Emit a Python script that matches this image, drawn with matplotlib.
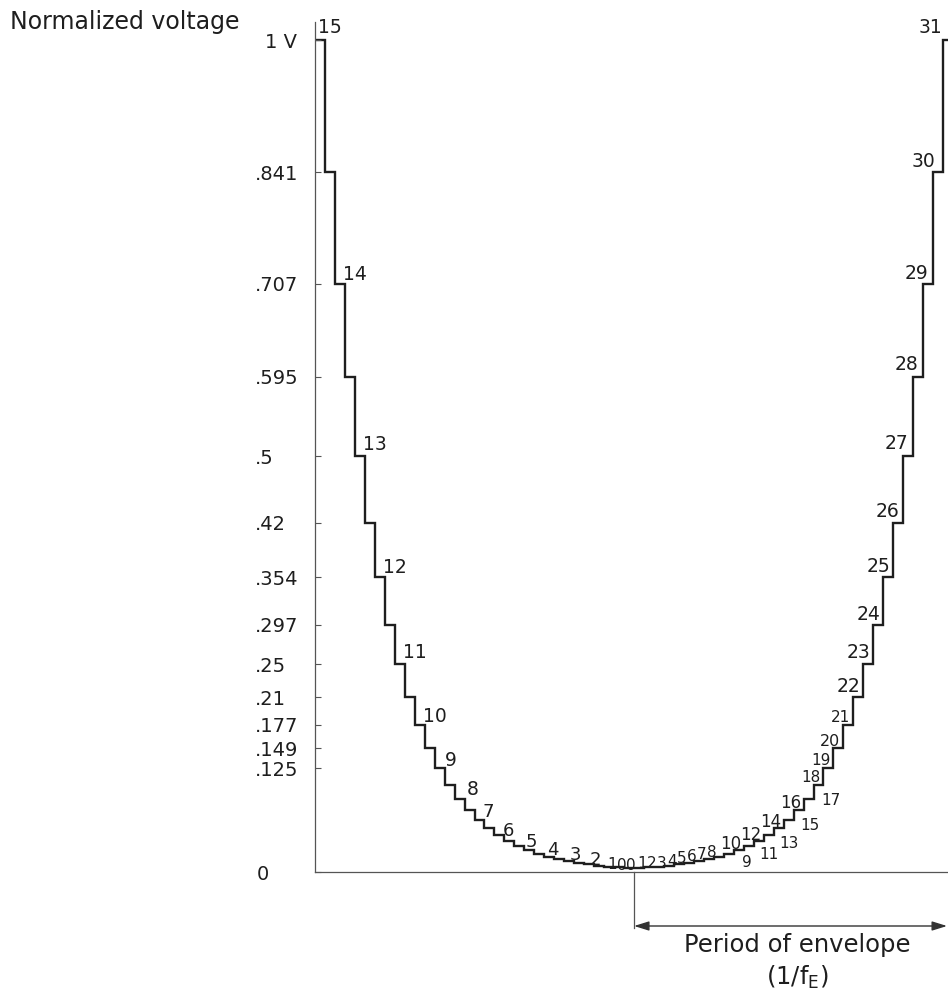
import matplotlib
matplotlib.use("Agg")
import matplotlib.pyplot as plt
import numpy as np

# ---------------- data ----------------
# left half: descending staircase (32 levels), right half: ascending staircase (32 levels)
levels_left = [1.0, .841, .707, .595, .5, .42, .354, .297, .25, .21, .177, .149,
               .125, .105, .088, .074, .0625, .053, .044, .037, .031, .026, .022,
               .0186, .0156, .0131, .011, .0093, .0078, .0066, .0055, .0046]
levels_right = [.0046, .0055, .0066, .0078, .0093, .011, .0131, .0156, .0186, .022,
                .026, .031, .037, .044, .053, .0625, .074, .088, .105, .125, .149,
                .177, .21, .25, .297, .354, .42, .5, .595, .707, .841, 1.0]
# left side is labelled on every second step
left_step_labels = ['15', '14', '13', '12', '11', '10', '9', '8', '7', '6', '5', '4',
                    '3', '2', '1', '0']
right_step_labels = [str(n) for n in range(32)]
ytick_values = [0, .125, .149, .177, .21, .25, .297, .354, .42, .5, .595, .707, .841, 1.0]
ytick_labels = ['0', '.125', '.149', '.177', '.21', '.25', '.297', '.354', '.42', '.5',
                '.595', '.707', '.841', '1 V']

# ---------------- layout (label offsets in pixels, font sizes) ----------------
left_label_layout = [  # (dx, dy, size)
    (3, 7, 13.5), (-2, 4, 13.5), (-2, 6, 13.5), (-2, 4, 13.5), (-2, 6, 13.5),
    (-2, 3, 13.5), (0, 2, 13.5), (2, 4, 13.5), (-2, 3, 13), (-2, -1, 13),
    (1, -1, 13), (3, -1, 13), (5, -1, 13), (5, -2, 13), (3, -3, 11), (-7, -3, 11)]
right_label_layout = [  # (ha, va, dx, dy, size)
    ('right', 'baseline', -8, -2, 11), ('right', 'baseline', -7, -1, 11),
    ('right', 'baseline', -7, -1, 11), ('right', 'baseline', -7, -2, 11),
    ('right', 'baseline', -7, -2, 11), ('right', 'baseline', -7, 0, 11),
    ('right', 'baseline', -7, 0, 11), ('right', 'baseline', -7, 0, 11),
    ('right', 'baseline', -7, 0, 11),
    ('left', 'top', 8, -1, 11), ('right', 'baseline', -2, 1, 12),
    ('left', 'top', 6, -1, 11), ('right', 'baseline', -2, 1, 12),
    ('left', 'top', 6, -1, 11), ('right', 'baseline', -2, 1, 12),
    ('left', 'top', 7, 2, 11), ('right', 'baseline', -2, 2, 12),
    ('left', 'top', 8, 6, 11), ('right', 'baseline', -3, 3, 11),
    ('right', 'baseline', -3, 3, 11), ('right', 'baseline', -3, 2, 11.5),
    ('right', 'baseline', -3, 3, 11), ('right', 'baseline', -3, 5, 13.5),
    ('right', 'baseline', -3, 6, 13.5), ('right', 'baseline', -3, 5, 13.5),
    ('right', 'baseline', -3, 5, 13.5), ('right', 'baseline', -4, 6, 13.5),
    ('right', 'baseline', -5, 7, 13.5), ('right', 'baseline', -5, 7, 13.5),
    ('right', 'baseline', -5, 5, 13.5), ('right', 'baseline', -8, 5, 13.5),
    ('right', 'baseline', -1, 7, 13.5)]

INK = '#1e1e1e'
AXC = '#555555'
PX = 0.72  # pixels -> points at 100 dpi

fig = plt.figure(figsize=(9.48, 9.9), dpi=100)
ax = fig.add_axes([315 / 948, 118 / 990, 633 / 948, 850 / 990])

values = levels_left + levels_right
edges = np.arange(len(values) + 1)
ax.stairs(values, edges, baseline=None, color=INK, lw=1.7)

ax.set_xlim(0, 633 / 9.97)
ax.set_ylim(0, 850 / 832)

for s in ('top', 'right'):
    ax.spines[s].set_visible(False)
for s in ('left', 'bottom'):
    ax.spines[s].set_color(AXC)
    ax.spines[s].set_linewidth(0.9)

ax.set_xticks([])
ax.set_yticks(ytick_values, ytick_labels)
ax.tick_params(axis='y', direction='in', length=4.5, width=0.8, color=AXC,
               labelsize=14, labelcolor=INK, pad=43)
for lab in ax.get_yticklabels():
    lab.set_horizontalalignment('left')
ticks = ax.yaxis.get_major_ticks()
ticks[0].set_pad(42)
ticks[-1].set_pad(36)

# step labels, left side
nL = len(levels_left)
for j, txt in enumerate(left_step_labels):
    i = 2 * j
    dx, dy, size = left_label_layout[j]
    x = 0 if j == 0 else i + 1
    ax.annotate(txt, (x, levels_left[i]), xytext=(dx * PX, dy * PX),
                textcoords='offset points', ha='left', va='baseline',
                fontsize=size, color=INK, annotation_clip=False)

# step labels, right side
for k, txt in enumerate(right_step_labels):
    ha, va, dx, dy, size = right_label_layout[k]
    x = nL + k if k == len(right_step_labels) - 1 else nL + k + 1
    ax.annotate(txt, (x, levels_right[k]), xytext=(dx * PX, dy * PX),
                textcoords='offset points', ha=ha, va=va,
                fontsize=size, color=INK, annotation_clip=False)

# period marker
ybar = -56 / 832
yarr = -54 / 832
ax.plot([nL, nL], [0, ybar], color=AXC, lw=0.9, clip_on=False)
ax.annotate('', xy=(632 / 9.97, yarr), xytext=(nL, yarr),
            arrowprops=dict(arrowstyle='<|-|>,head_length=0.45,head_width=0.14',
                            color='#333333', lw=1.0, shrinkA=0, shrinkB=0,
                            mutation_scale=20),
            annotation_clip=False)

fig.text(10 / 948, 1 - 29 / 990, 'Normalized voltage', fontsize=17, color=INK,
         ha='left', va='baseline')
fig.text(797 / 948, 1 - 945 / 990, 'Period of envelope', fontsize=17.5, color=INK,
         ha='center', va='center')
fig.text(797 / 948, 1 - 977 / 990, r'(1/f$_\mathregular{E}$)', fontsize=17.5,
         color=INK, ha='center', va='center')

fig.savefig('out.png', dpi=100)
